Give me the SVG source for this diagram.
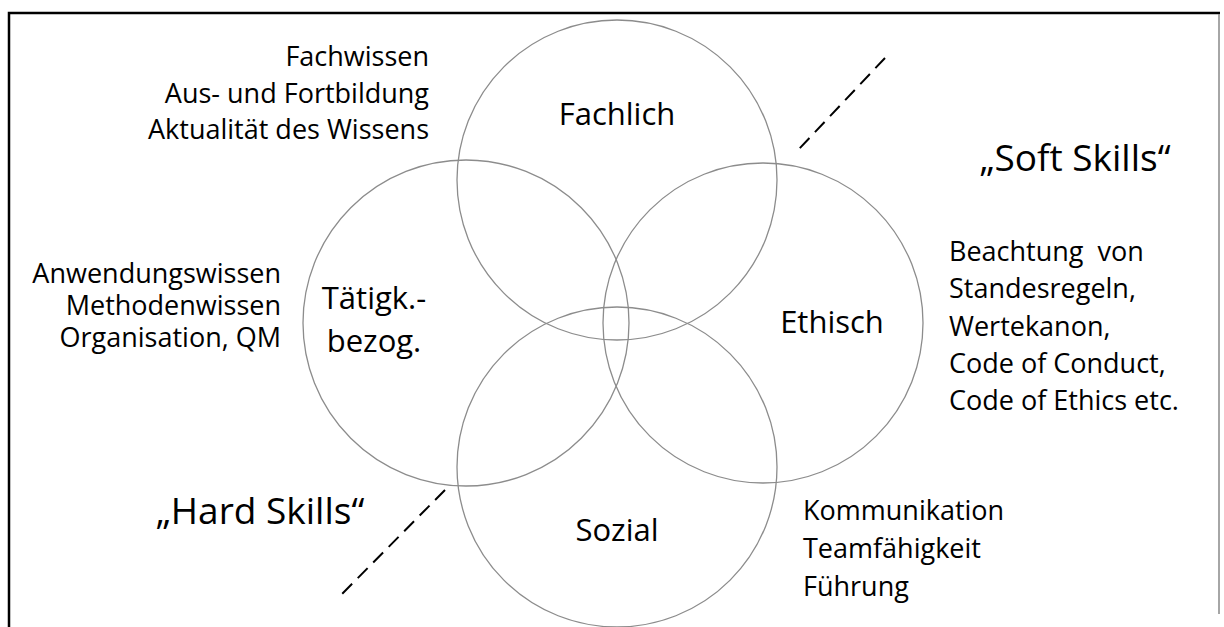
<svg xmlns="http://www.w3.org/2000/svg" width="1224" height="627" viewBox="0 0 1224 627">
  <style>
    .ring { fill: none; stroke: #8c8c8c; stroke-width: 1.3; }
    .txt { font-family: "Open Sans", "Noto Sans", sans-serif; font-size: 27px; fill: #000; }
    .lbl { font-family: "Open Sans", "Noto Sans", sans-serif; font-size: 31px; fill: #000; text-anchor: middle; }
    .big { font-family: "Open Sans", "Noto Sans", sans-serif; font-size: 37px; fill: #000; text-anchor: middle; }
    .dash { stroke: #000; stroke-width: 2; stroke-dasharray: 14 8; fill: none; }
  </style>
  <rect width="1224" height="627" fill="#fff"/>

  <!-- frame -->
  <path d="M9,627 L9,13 L1220,13" fill="none" stroke="#000" stroke-width="2.5"/>
  <path d="M1219,14 L1219,614" fill="none" stroke="#888" stroke-width="1.5"/>

  <!-- four overlapping competence circles -->
  <g id="fachlich">
    <circle class="ring" cx="617" cy="180" r="160"/>
    <text class="lbl" x="617" y="125">Fachlich</text>
  </g>
  <g id="taetigk">
    <circle class="ring" cx="466" cy="323" r="163"/>
    <text class="lbl" x="374" y="309">Tätigk.-</text>
    <text class="lbl" x="374" y="352">bezog.</text>
  </g>
  <g id="ethisch">
    <circle class="ring" cx="763" cy="323" r="160"/>
    <text class="lbl" x="832" y="333">Ethisch</text>
  </g>
  <g id="sozial">
    <circle class="ring" cx="617" cy="467" r="160"/>
    <text class="lbl" x="617" y="541">Sozial</text>
  </g>

  <!-- dashed dividers between hard and soft skills -->
  <g id="connectors">
    <line class="dash" x1="885" y1="58" x2="799" y2="149"/>
    <line class="dash" x1="445" y1="490" x2="342" y2="594"/>
  </g>

  <!-- descriptions -->
  <g id="fachwissen" class="txt" text-anchor="end">
    <text x="429" y="66">Fachwissen</text>
    <text x="429" y="103">Aus- und Fortbildung</text>
    <text x="429" y="139">Aktualität des Wissens</text>
  </g>
  <g id="anwendung" class="txt" text-anchor="end" font-size="26">
    <text x="281" y="283">Anwendungswissen</text>
    <text x="281" y="315">Methodenwissen</text>
    <text x="281" y="347">Organisation, QM</text>
  </g>
  <g id="standes" class="txt">
    <text x="949" y="261" xml:space="preserve">Beachtung  von</text>
    <text x="949" y="298">Standesregeln,</text>
    <text x="949" y="336">Wertekanon,</text>
    <text x="949" y="373">Code of Conduct,</text>
    <text x="949" y="410">Code of Ethics etc.</text>
  </g>
  <g id="kommunikation" class="txt">
    <text x="803" y="520">Kommunikation</text>
    <text x="803" y="558">Teamfähigkeit</text>
    <text x="803" y="596">Führung</text>
  </g>

  <g id="soft">
    <text class="big" x="1075" y="171">„Soft Skills“</text>
  </g>
  <g id="hard">
    <text class="big" x="260" y="524">„Hard Skills“</text>
  </g>
</svg>
